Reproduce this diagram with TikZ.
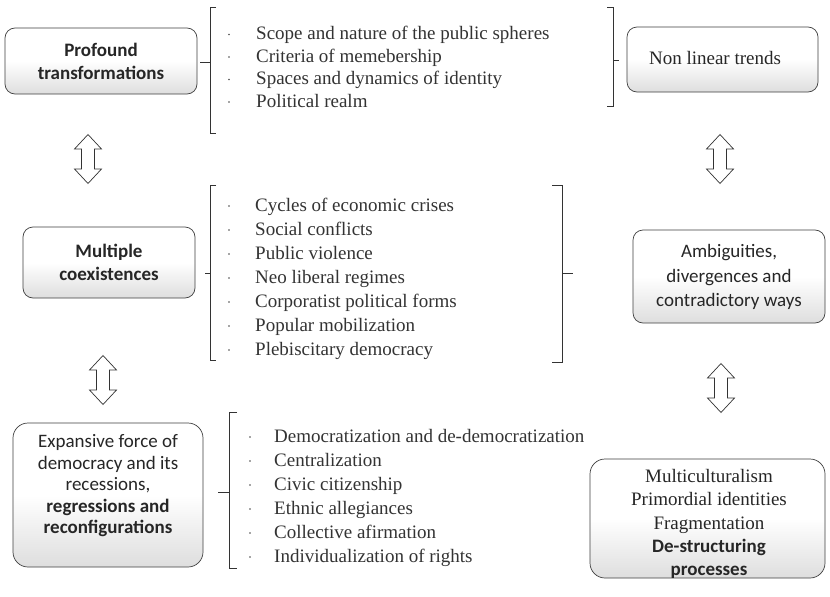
\documentclass[tikz,border=0pt]{standalone}
\usepackage{fontspec}
\usetikzlibrary{calc}
\setmainfont{Liberation Serif}
\newfontfamily\boxfont{Carlito}
\begin{document}
\begin{tikzpicture}[x=1pt,y=-1pt,
  every node/.style={inner sep=0pt},
  card/.style={draw=black!75, line width=0.7pt, rounded corners=10pt,
    top color=white, bottom color=black!13, middle color=white},
  label/.style={align=center, font=\boxfont\fontsize{19}{23}\selectfont, text=black!85},
  brack/.style={draw=black!80, line width=0.7pt},
  listline/.style={anchor=base west, font=\fontsize{19}{23}\selectfont, text=black!80},
  dot/.style={circle, fill=black!70, minimum size=1.8pt},
  arrowline/.style={draw=black!80, line width=0.7pt, fill=white, line join=miter},
  dblarrow/.pic={\draw[arrowline] (0,-24.5) -- (13.5,-10) -- (6.5,-10) -- (6.5,10)
      -- (13.5,10) -- (0,24.5) -- (-13.5,10) -- (-6.5,10) -- (-6.5,-10)
      -- (-13.5,-10) -- cycle;}
]
\useasboundingbox (0,0) rectangle (830,597);
\fill[white] (0,0) rectangle (830,597);

% boxes
\node[card, minimum width=192, minimum height=66] (pt) at (101,61) {};
\node[card, minimum width=191, minimum height=65] (nlt) at (722.5,59.5) {};
\node[card, minimum width=172, minimum height=71] (mc) at (109,262.5) {};
\node[card, minimum width=192, minimum height=93] (amb) at (729,276.5) {};
\node[card, minimum width=190, minimum height=144, rounded corners=15pt] (exp) at (108,495) {};
\node[card, minimum width=235, minimum height=119, rounded corners=15pt] (mul) at (707.5,518.5) {};

% box labels
\node[label] (ptt) at (101,61.5) {\bfseries Profound\\\bfseries transformations};
\node[label, font=\fontsize{19}{23}\selectfont] (nltt) at (715,58.5) {Non linear trends};
\node[label] (mct) at (109,262.5) {\bfseries Multiple\\\bfseries coexistences};
\node[label, font=\boxfont\fontsize{19}{24.5}\selectfont] (ambt) at (729,277)
  {Ambiguities,\\divergences and\\contradictory ways};
\node[label, font=\boxfont\fontsize{19}{21.5}\selectfont] (expt) at (108,486)
  {Expansive force of\\democracy and its\\recessions,\\\bfseries regressions and\\\bfseries reconfigurations};
\node[label, font=\fontsize{19}{23.3}\selectfont] (mult) at (709,524)
  {Multiculturalism\\Primordial identities\\Fragmentation\\\boxfont\bfseries De-structuring\\\boxfont\bfseries processes};

% double arrows between the boxes
\pic at (88,159) {dblarrow};
\pic at (103,380) {dblarrow};
\pic at (720,159) {dblarrow};
\pic at (721,388) {dblarrow};

% brackets
\coordinate (b1t) at (210,7);   \coordinate (b1b) at (210,133); \coordinate (b1m) at (210,62);
\draw[brack] ($(b1t)+(6,0)$) -- (b1t) -- (b1b) -- ++(6,0);
\draw[brack] (b1m) -- ++(-10,0);
\coordinate (r1t) at (613,7);   \coordinate (r1b) at (613,106); \coordinate (r1m) at (613,60);
\draw[brack] ($(r1t)+(-6,0)$) -- (r1t) -- (r1b) -- ++(-6,0);
\draw[brack] (r1m) -- ++(6,0);

\coordinate (b2t) at (210,185); \coordinate (b2b) at (210,360); \coordinate (b2m) at (210,273);
\draw[brack] ($(b2t)+(6,0)$) -- (b2t) -- (b2b) -- ++(6,0);
\draw[brack] (b2m) -- ++(-5,0);
\coordinate (r2t) at (562,185); \coordinate (r2b) at (562,362); \coordinate (r2m) at (562,273);
\draw[brack] ($(r2t)+(-10,0)$) -- (r2t) -- (r2b) -- ++(-10,0);
\draw[brack] (r2m) -- ++(11,0);

\coordinate (b3t) at (229,412); \coordinate (b3b) at (229,568); \coordinate (b3m) at (229,492);
\draw[brack] ($(b3t)+(8,0)$) -- (b3t) -- (b3b) -- ++(8,0);
\draw[brack] (b3m) -- ++(-11,0);

% bullet lists, set on their baselines with the dot at mid x-height
\foreach \t [count=\i] in {Scope and nature of the public spheres, Criteria of memebership,
    Spaces and dynamics of identity, Political realm} {
  \node[listline] (la\i) at (256,{17+22.5*\i}) {\t};
  \node[dot] (da\i) at (229,{12+22.5*\i}) {};
}
\foreach \t [count=\i] in {Cycles of economic crises, Social conflicts, Public violence,
    Neo liberal regimes, Corporatist political forms, Popular mobilization,
    Plebiscitary democracy} {
  \node[listline] (lb\i) at (255,{187+24*\i}) {\t};
  \node[dot] (db\i) at (229,{182+24*\i}) {};
}
\foreach \t [count=\i] in {Democratization and de-democratization, Centralization,
    Civic citizenship, Ethnic allegiances, Collective afirmation,
    Individualization of rights} {
  \node[listline] (lc\i) at (274,{418+24*\i}) {\t};
  \node[dot] (dc\i) at (250,{413+24*\i}) {};
}
\end{tikzpicture}
\end{document}
